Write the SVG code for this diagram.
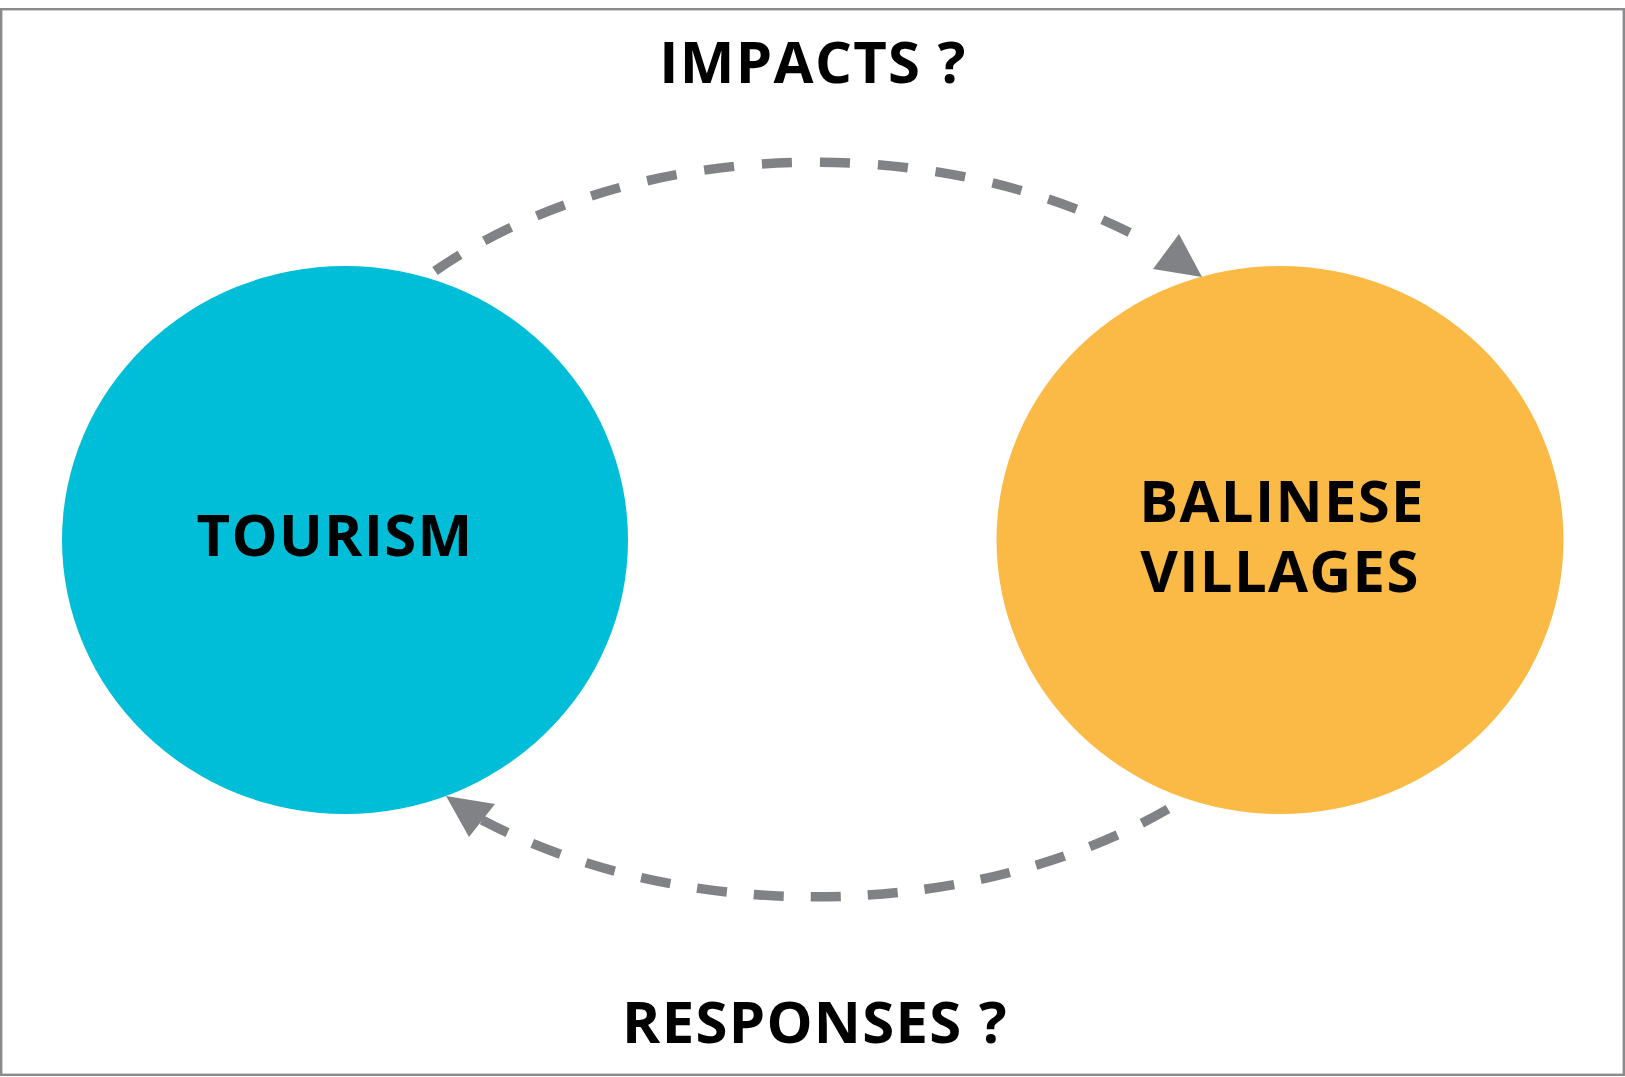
<svg xmlns="http://www.w3.org/2000/svg" width="1625" height="1077" viewBox="0 0 1625 1077">
<style>
.lbl{font-family:"Open Sans","Liberation Sans",sans-serif;font-weight:700;font-size:58px;letter-spacing:1.3px;fill:#000;text-anchor:middle}
.arc{fill:none;stroke:#818285;stroke-width:9.5}
.top{stroke-dasharray:30 28}
.bot{stroke-dasharray:30 27}
.head{fill:#818285}
</style>
<rect x="1.2" y="9.2" width="1622.6" height="1065.6" fill="#fff" stroke="#8a8a8c" stroke-width="2.4"/>
<g id="tourism">
<ellipse cx="345" cy="540" rx="283" ry="274" fill="#00BED7"/>
<text class="lbl" x="335" y="555.5">TOURISM</text>
</g>
<g id="villages">
<ellipse cx="1280" cy="540" rx="283.5" ry="274" fill="#FBB946"/>
<text class="lbl" x="1282" y="521.5">BALINESE</text>
<text class="lbl" x="1280" y="591.5">VILLAGES</text>
</g>
<g id="impacts-label">
<text class="lbl" x="813" y="83.3">IMPACTS ?</text>
</g>
<g id="responses-label">
<text class="lbl" x="815" y="1042.6">RESPONSES ?</text>
</g>
<g id="connectors">
<path class="arc top" d="M435,271 A540,376 0 0 1 1146,241"/>
<polygon class="head" points="1202,277 1153,269 1179,234"/>
<path class="arc bot" d="M1168,809 A540,361 0 0 1 482,820"/>
<polygon class="head" points="446,796 495,804 469,837"/>
</g>
</svg>
